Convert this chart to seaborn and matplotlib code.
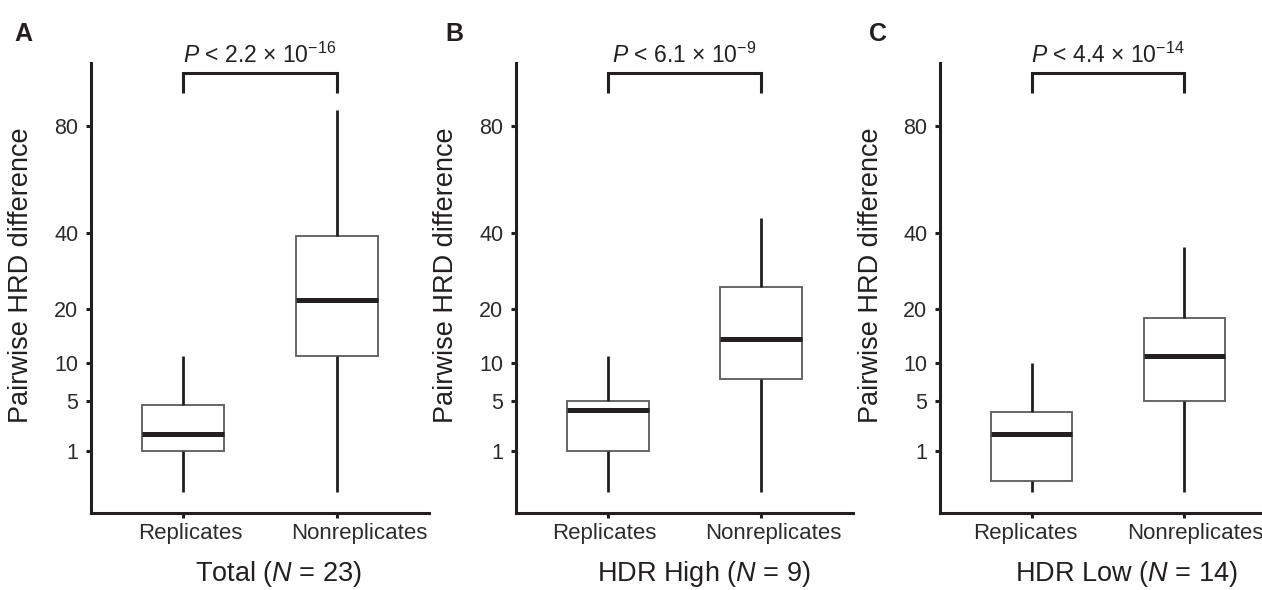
import numpy as np
import pandas as pd
import matplotlib.pyplot as plt
import matplotlib.transforms as mtransforms
import seaborn as sns

# five-number summaries: min, q1, median, q3, max
groups = ['Replicates', 'Nonreplicates']
total_rep = [0, 1.0, 2.0, 4.5, 11.0]
total_non = [0, 11.0, 22.0, 39.0, 87.0]
high_rep = [0, 1.0, 4.0, 5.0, 11.0]
high_non = [0, 7.6, 14.0, 25.0, 45.0]
low_rep = [0, 0.07, 2.0, 3.8, 10.0]
low_non = [0, 5.0, 11.0, 18.0, 36.0]

panel_letters = ['A', 'B', 'C']
xlabels = ['Total ($\\mathit{N}$ = 23)', 'HDR High ($\\mathit{N}$ = 9)', 'HDR Low ($\\mathit{N}$ = 14)']
pvalues = ['2.2 × 10$^{-16}$', '6.1 × 10$^{-9}$', '4.4 × 10$^{-14}$']
yticks = [1, 5, 10, 20, 40, 80]

panels = [(total_rep, total_non), (high_rep, high_non), (low_rep, low_non)]

sns.set_style('ticks')
plt.rcParams['font.family'] = ['Liberation Sans', 'DejaVu Sans']
plt.rcParams['mathtext.fontset'] = 'custom'
plt.rcParams['mathtext.rm'] = 'Liberation Sans'
plt.rcParams['mathtext.it'] = 'Liberation Sans:italic'
plt.rcParams['mathtext.bf'] = 'Liberation Sans:bold'

ink = '#231f20'
tick_ink = '#2b2b2b'

def fwd(x):
    return np.sign(x) * np.sqrt(np.abs(x))

def inv(y):
    return np.sign(y) * y ** 2

fig = plt.figure(figsize=(12.62, 5.9), dpi=100)
W, H = 1262, 590
lefts = [91, 516, 940]
widths = [338, 337, 336]
top_px, bot_px = 63.3, 512.7
letter_x = [14, 445, 869]
# the x tick labels sit a little off their ticks in the original
label_shift = [(7, 22), (-4, 12), (-6, 11)]

for i, (rep, non) in enumerate(panels):
    ax = fig.add_axes([lefts[i] / W, 1 - bot_px / H, widths[i] / W, (bot_px - top_px) / H])
    df = pd.DataFrame({'group': [groups[0]] * len(rep) + [groups[1]] * len(non),
                       'value': rep + non})
    sns.boxplot(data=df, x='group', y='value', order=groups, ax=ax,
                whis=(0, 100), width=0.53, showcaps=False, fliersize=0,
                boxprops=dict(facecolor='white', edgecolor='#5a5a5a', linewidth=1.3),
                whiskerprops=dict(color=ink, linewidth=2.0),
                medianprops=dict(color=ink, linewidth=3.6))
    ax.set_yscale('function', functions=(fwd, inv))
    ax.set_ylim(-0.25, 109.7)
    ax.set_xlim(-0.6, 1.6)
    ax.set_yticks(yticks)
    ax.set_yticklabels([str(t) for t in yticks])
    ax.yaxis.set_minor_locator(plt.NullLocator())

    for s in ['top', 'right']:
        ax.spines[s].set_visible(False)
    for s in ['left', 'bottom']:
        ax.spines[s].set_linewidth(2.2)
        ax.spines[s].set_color(ink)
    ax.tick_params(axis='both', width=2.2, length=3.6, color=ink,
                   labelsize=16, labelcolor=tick_ink)
    ax.tick_params(axis='y', labelsize=15.5, pad=5.6)
    ax.tick_params(axis='x', pad=4.0)

    for lab, dx in zip(ax.get_xticklabels(), label_shift[i]):
        lab.set_transform(lab.get_transform() +
                          mtransforms.ScaledTranslation(dx / 100, 0, fig.dpi_scale_trans))

    ax.set_ylabel('Pairwise HRD difference', fontsize=19.5, color=ink)
    ax.yaxis.set_label_coords(-0.168, 0.528)
    ax.set_xlabel(xlabels[i], fontsize=19.5, color=ink)
    ax.xaxis.set_label_coords(0.556, -0.102)

    # significance bracket
    ax.plot([0, 0, 1, 1], [95, 105, 105, 95], color=ink, lw=2.2,
            clip_on=False, solid_capstyle='butt', solid_joinstyle='miter')
    ax.text(0.5, 1.0013, '$\\mathit{P}$ < ' + pvalues[i], transform=ax.get_xaxis_transform(),
            ha='center', va='baseline', fontsize=16.5, color=ink)

    fig.text(letter_x[i] / W, 1 - 40.7 / H, panel_letters[i], fontsize=18,
             fontweight='bold', color=ink, ha='left', va='baseline')

fig.savefig('out.png', dpi=100)
